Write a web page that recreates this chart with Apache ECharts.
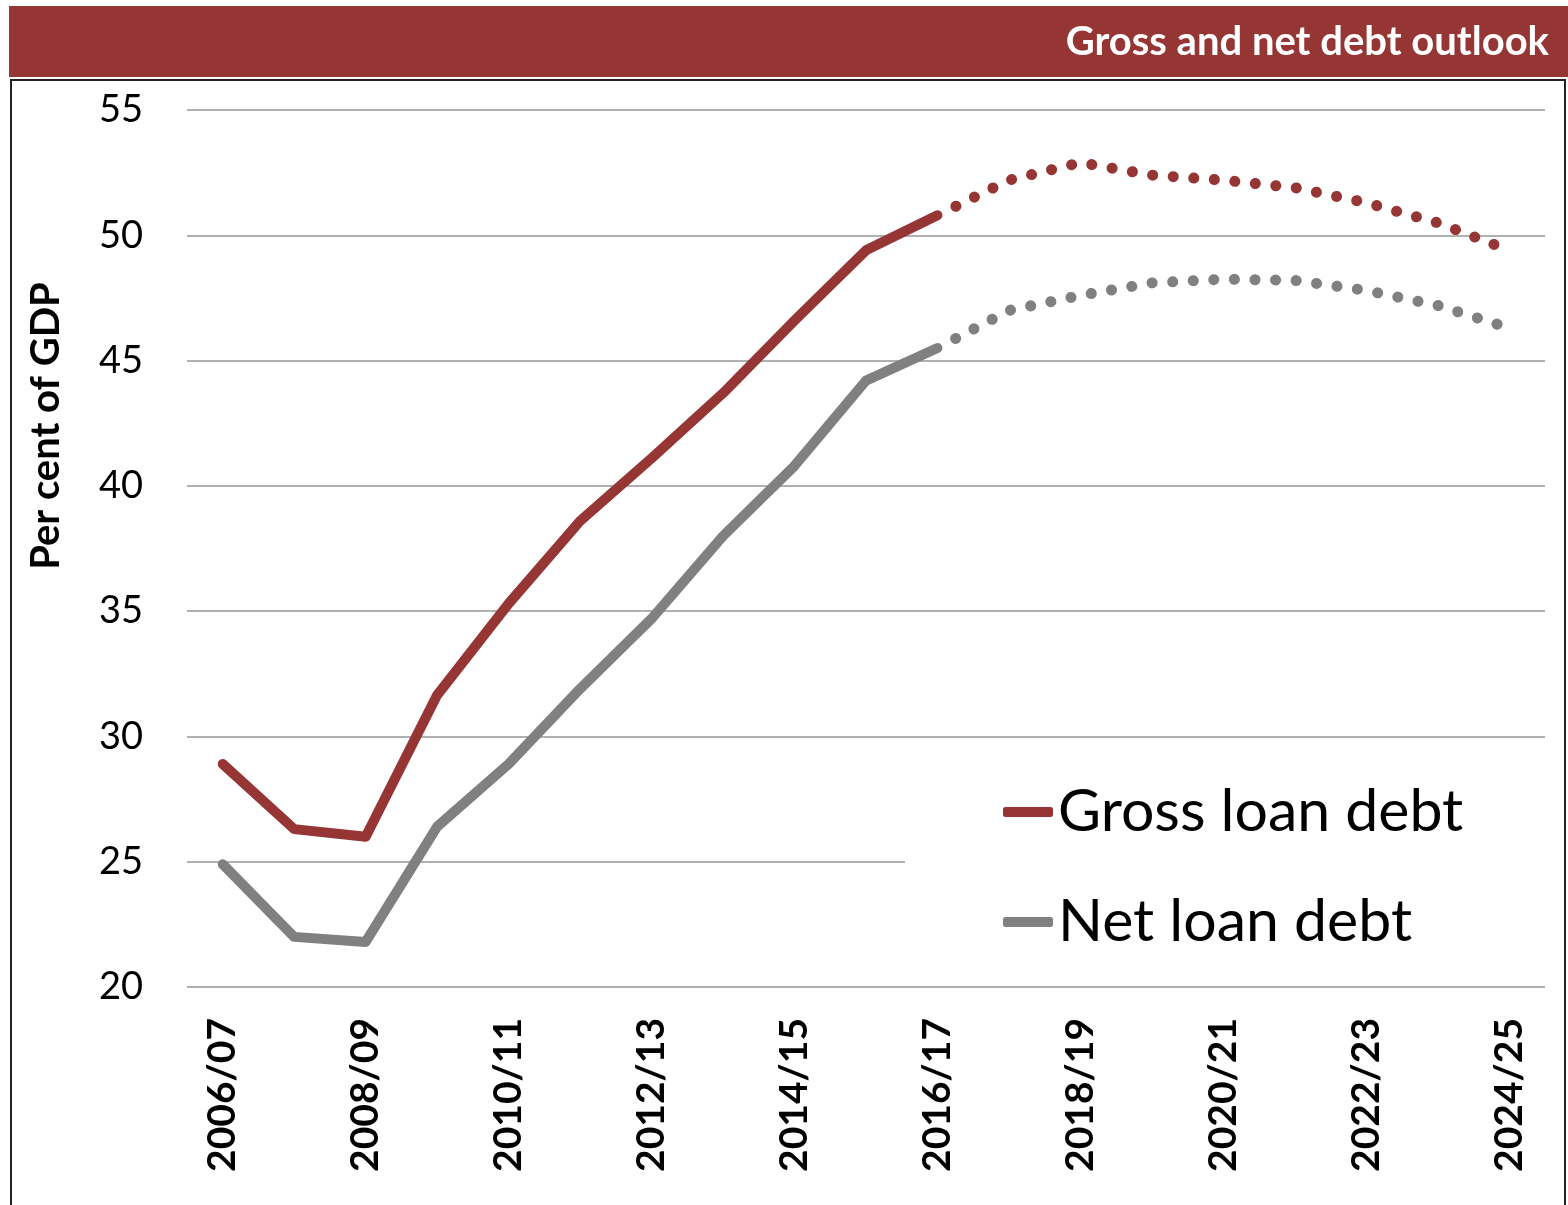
<!DOCTYPE html>
<html>
<head>
<meta charset="utf-8">
<script src="https://cdn.jsdelivr.net/npm/echarts@6/dist/echarts.min.js"></script>
<style>
html,body{margin:0;padding:0;background:#fff;}
#chart{width:1568px;height:1205px;}
</style>
</head>
<body>
<div id="chart"></div>
<script>
const years = ['2006/07','2007/08','2008/09','2009/10','2010/11','2011/12','2012/13','2013/14','2014/15','2015/16','2016/17','2017/18','2018/19','2019/20','2020/21','2021/22','2022/23','2023/24','2024/25'];
const grossDebt = [28.9, 26.3, 26.0, 31.65, 35.3, 38.6, 41.1, 43.7, 46.6, 49.4, 50.8, 52.2, 52.9, 52.4, 52.2, 51.9, 51.3, 50.5, 49.4];
const netDebt = [24.9, 22.0, 21.8, 26.4, 28.9, 31.9, 34.7, 38.0, 40.8, 44.2, 45.5, 47.0, 47.6, 48.1, 48.25, 48.2, 47.8, 47.2, 46.3];
const forecastFrom = '2016/17';
const yTicks = [20, 25, 30, 35, 40, 45, 50, 55];

const splitIdx = years.indexOf(forecastFrom);
const actual = arr => arr.map((v, i) => i <= splitIdx ? v : null);
const forecast = arr => arr.map((v, i) => i >= splitIdx ? v : null);

const RED = '#963634';
const GREY = '#808080';
const FONT = 'Lato';

const chart = echarts.init(document.getElementById('chart'));
chart.setOption({
  animation: false,
  textStyle: { fontFamily: FONT },
  graphic: [
    { type: 'rect', z: 0, shape: { x: 9, y: 6, width: 1560, height: 71 }, style: { fill: RED } },
    { type: 'rect', z: 0, shape: { x: 11, y: 80, width: 1554, height: 1160 }, style: { fill: 'none', stroke: '#222', lineWidth: 2 } },
    { type: 'text', z: 10, x: 1549, y: 42, style: { text: 'Gross and net debt outlook', fill: '#fff', font: 'bold 40px Lato', align: 'right', verticalAlign: 'middle' } },
    { type: 'text', z: 10, x: 46, y: 426, rotation: Math.PI / 2, style: { text: 'Per cent of GDP', fill: '#000', font: 'bold 40px Lato', align: 'center', verticalAlign: 'middle' } }
  ],
  grid: { left: 187, right: 23, top: 110, bottom: 218 },
  legend: {
    orient: 'vertical',
    left: 905,
    top: 745,
    padding: [34, 85, 26, 98],
    itemGap: 44,
    backgroundColor: '#fff',
    icon: 'roundRect',
    itemWidth: 50,
    itemHeight: 10,
    textStyle: { fontSize: 59, color: '#000', fontFamily: FONT, lineHeight: 66 },
    data: ['Gross loan debt', 'Net loan debt']
  },
  xAxis: {
    type: 'category',
    data: years,
    boundaryGap: true,
    axisLine: { show: false },
    axisTick: { show: false },
    axisLabel: { interval: 1, rotate: 90, margin: 31, fontSize: 39, fontWeight: 'bold', color: '#000', fontFamily: FONT }
  },
  yAxis: {
    type: 'value',
    min: yTicks[0],
    max: yTicks[yTicks.length - 1],
    interval: 5,
    axisLine: { show: false },
    axisTick: { show: false },
    axisLabel: { margin: 44, fontSize: 38, color: '#000', fontFamily: FONT },
    splitLine: { lineStyle: { color: '#b0b0b0', width: 2 } }
  },
  series: [
    { name: 'Gross loan debt', type: 'line', data: actual(grossDebt), symbol: 'none', color: RED, lineStyle: { color: RED, width: 10, cap: 'round', join: 'round' }, z: 3 },
    { name: 'Net loan debt', type: 'line', data: actual(netDebt), symbol: 'none', color: GREY, lineStyle: { color: GREY, width: 10, cap: 'round', join: 'round' }, z: 3 },
    { name: 'Gross loan debt', type: 'line', data: forecast(grossDebt), symbol: 'none', color: RED, lineStyle: { color: RED, width: 11, type: [0.1, 20.5], dashOffset: -20.5, cap: 'round' }, z: 2 },
    { name: 'Net loan debt', type: 'line', data: forecast(netDebt), symbol: 'none', color: GREY, lineStyle: { color: GREY, width: 11, type: [0.1, 20.5], dashOffset: -20.5, cap: 'round' }, z: 2 }
  ]
});
</script>
</body>
</html>
